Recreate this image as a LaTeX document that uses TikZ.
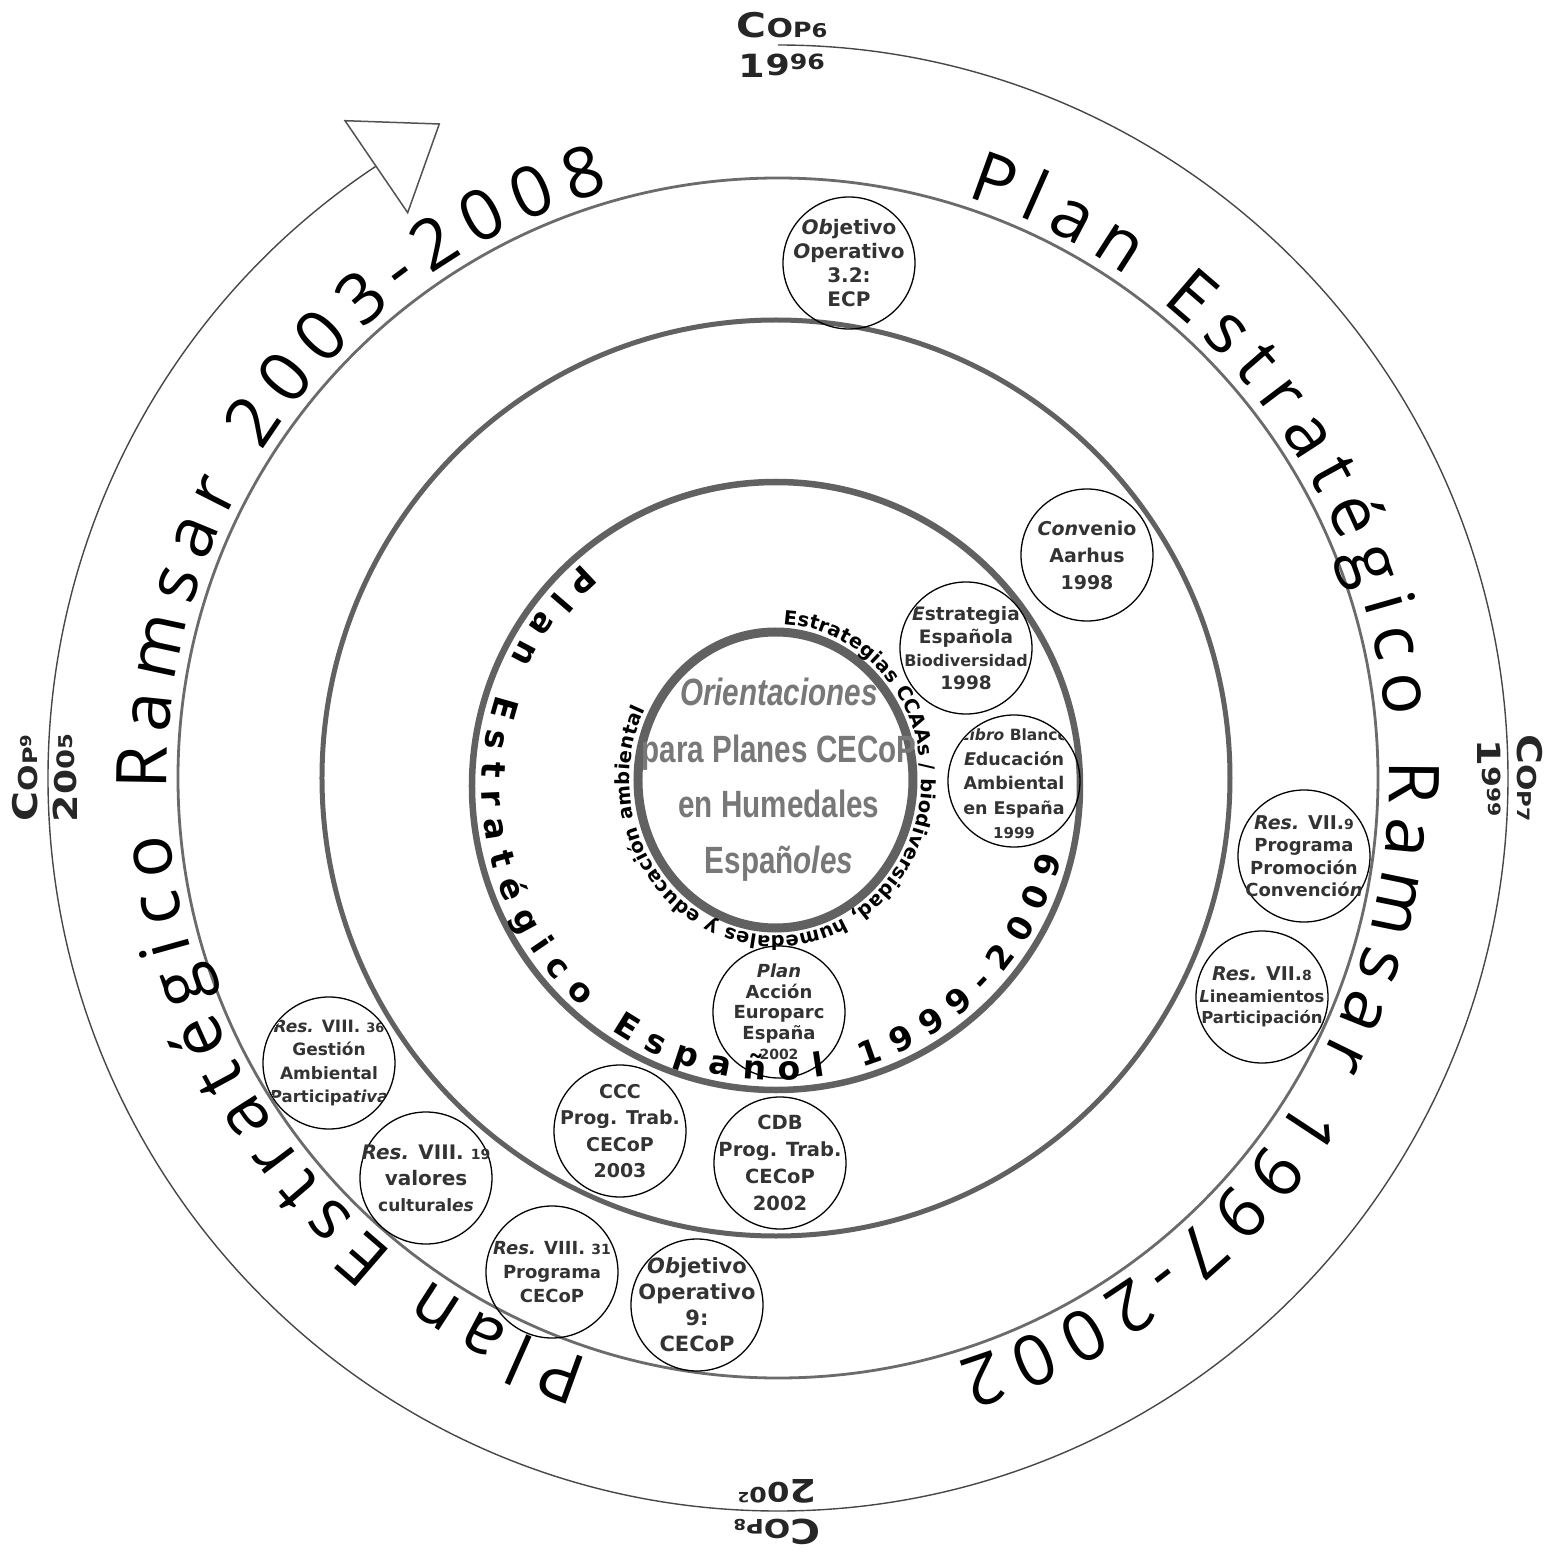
\documentclass[tikz,border=0pt]{standalone}
\usepackage{fontspec}
\usepackage{graphicx}
\usetikzlibrary{decorations.text}
\setmainfont{DejaVu Sans}
\newfontfamily\dvs{DejaVu Sans}
\newfontfamily\osans{Open Sans}
\newfontfamily\libs{Liberation Sans}
\newcommand\fs[1]{\fontsize{#1}{#1}\selectfont}
\newcommand\dgt[3]{\raisebox{#2pt}{\fontsize{#1}{#1}\selectfont #3}}
\newcommand\bt[2]{\dvs\bfseries\fontsize{#1}{#2}\selectfont}
\newcommand\bigtxt{\osans\fontsize{70}{70}\selectfont}
\newcommand\ringtxt{\dvs\bfseries\fontsize{33}{33}\selectfont}
\newcommand\innertxt{\dvs\bfseries\fontsize{19.5}{19.5}\selectfont}
\begin{document}
\begin{tikzpicture}[x=1pt,y=1pt,
  outerline/.style={draw=black!72,line width=1.4pt},
  ringA/.style={draw=black!58,line width=2.8pt},
  ringB/.style={draw=black!62,line width=5pt},
  ringC/.style={draw=black!62,line width=6.5pt},
  ringD/.style={draw=black!62,line width=9pt},
  tri/.style={draw=black!68,line width=1.5pt,fill=white,line join=miter},
  bub/.style={circle,draw=black,line width=1.3pt,minimum size=132pt,inner sep=0pt},
  btxt/.style={align=center,inner sep=0pt,text=black!80},
  cop/.style={align=center,inner sep=0pt,text=black!85,font=\dvs\bfseries\fontsize{20}{40}\selectfont},
  ctr/.style={anchor=base,inner sep=0pt,text=black!53,font=\libs\bfseries\fontsize{38}{38}\selectfont}
]
\useasboundingbox (-778,-778) rectangle (776,778);

% outer timeline arc with open arrowhead
\draw[outerline] (90:730 and 733) arc[start angle=90, end angle=-236.6, x radius=730, y radius=733];
\draw[tri] (-433,657.3) -- (-338.7,654) -- (-370.3,565.3) -- cycle;

% rings
\draw[ringA] (0,0) circle[radius=600];
\draw[ringB] (-2,0) ellipse[x radius=454, y radius=458];
\draw[ringC] (-2,-8) circle[radius=304];
\draw[ringD] (-2.5,-2) ellipse[x radius=137.5, y radius=148];

% texts along rings
\path[decorate, decoration={text along path, text align={fit to path},
  text={|\bigtxt|Plan Estratégico Ramsar 2003-2008}}]
  (252:611) arc[start angle=252, end angle=106, radius=611];
\path[decorate, decoration={text along path, text align={fit to path},
  text={|\bigtxt|Plan Estratégico Ramsar 1997-2002}}]
  (72:611) arc[start angle=72, end angle=-73, radius=611];
\path[shift={(-2,-8)}, decorate, decoration={text along path, text align={fit to path},
  text={|\ringtxt|Plan Estratégico Español 1999-2009}}]
  (131:294) arc[start angle=131, end angle=346, radius=294];
\path[shift={(-2.5,-2)}, decorate, decoration={text along path, text align={fit to path},
  text={|\innertxt|Estrategias CCAAs / biodiversidad, humedales y educación ambiental}}]
  (87:146 and 156) arc[start angle=87, end angle=-207, x radius=146, y radius=156];

% central text
\node[ctr] (o1) at (1,73) {\scalebox{0.78}[1]{\itshape Orientaciones}};
\node[ctr] (o2) at (1,16) {\scalebox{0.78}[1]{para Planes CECoP}};
\node[ctr] (o3) at (1,-39) {\scalebox{0.78}[1]{en Humedales}};
\node[ctr] (o4) at (1,-95) {\scalebox{0.78}[1]{Españ{\itshape oles}}};

% COP labels
\node[cop, xscale=1.2] (cop6) at (4,733)
  {{\fs{34}C}{\fs{26}O}{\fs{21}P}{\fs{19}6}\\\dgt{32}{0}{1}\dgt{29}{2.2}{9}\dgt{21}{8}{9}\dgt{21}{8}{6}};
\node[cop, rotate=-90, xscale=1.2] (cop7) at (732,0)
  {{\fs{34}C}{\fs{26}O}{\fs{19}P}{\fs{17}7}\\\dgt{32}{0}{1}\dgt{25}{5.1}{9}\dgt{18}{10.2}{9}\dgt{17}{10.9}{9}};
\node[cop, rotate=90, xscale=1.2] (cop9) at (-733,0)
  {{\fs{34}C}{\fs{26}O}{\fs{20}P}\dgt{15}{6}{9}\\\dgt{33}{0}{2}\dgt{30}{1.1}{0}\dgt{24}{3.3}{0}\dgt{19}{5.1}{5}};
\node[cop, rotate=180, xscale=1.2] (cop8) at (-1,-734)
  {{\fs{34}C}{\fs{26}O}{\fs{20}P}{\fs{15}8}\\\dgt{32}{0}{2}\dgt{27}{3.6}{0}\dgt{21}{8}{0}\dgt{14}{13.1}{2}};

% bubbles
\node[bub] (b1) at (71,515) {};
\node[bub] (b2) at (309,223) {};
\node[bub] (b3) at (188,130) {};
\node[bub] (b4) at (236,-3) {};
\node[bub] (b5) at (526,-78) {};
\node[bub] (b6) at (484,-219) {};
\node[bub] (b7) at (1,-234) {};
\node[bub] (b8) at (2,-385) {};
\node[bub] (b9) at (-158,-353) {};
\node[bub] (b10) at (-449,-285) {};
\node[bub] (b11) at (-352,-400) {};
\node[bub] (b12) at (-226,-494) {};
\node[bub] (b13) at (-81,-527) {};

\node[btxt, font={\bt{20}{24}}] (t1) at (b1) {{\itshape Ob}jetivo\\{\itshape O}perativo\\3.2:\\ECP};
\node[btxt, font={\bt{19}{27}}] (t2) at (b2) {{\itshape Con}venio\\Aarhus\\1998};
\begin{scope}
\clip (188,130) circle[radius=65];
\node[btxt, font={\bt{18.5}{23}}] (t3) at (b3) {{\itshape E}strategia\\Española\\{\fontsize{16}{23}\selectfont Biodiversidad}\\1998};
\end{scope}
\begin{scope}
\clip (236,-3) circle[radius=65];
\node[btxt, font={\bt{17.5}{24.5}}] (t4) at ([yshift=-3]b4.center) {{\fs{15.5}{\itshape Libro} Blanco}\\{\itshape E}ducación\\Ambiental\\en España\\{\fs{15}1999}};
\end{scope}
\node[btxt, font={\bt{18}{22.5}}] (t5) at (b5) {{\fs{19}{\itshape Res.} VII.{\fs{14}9}}\\Programa\\Promoción\\Convenció{\itshape n}};
\node[btxt, font={\bt{16.5}{21.5}}] (t6) at (b6) {{\fs{19}{\itshape Res.} VII.{\fs{14}8}}\\{\itshape L}ineamientos\\Participación};
\node[btxt, font={\bt{18}{20.5}}] (t7) at (b7) {{\itshape Plan}\\Acción\\Europarc\\España\\{\fs{14}2002}};
\node[btxt, font={\bt{19.5}{27}}] (t8) at (b8) {CDB\\Prog. Trab.\\CECoP\\2002};
\node[btxt, font={\bt{19}{26.5}}] (t9) at (b9) {CCC\\Prog. Trab.\\CECoP\\2003};
\begin{scope}
\clip (-449,-285) circle[radius=65];
\node[btxt, font={\bt{17}{23.5}}] (t10) at (b10) {{\itshape Res.} VIII. {\fs{13}36}\\Gestión\\Ambiental\\{\fs{16.5}{\itshape P}articipa{\itshape tiva}}};
\end{scope}
\node[btxt, font={\bt{20}{26}}] (t11) at (b11) {{\itshape Res.} VIII. {\fs{14}19}\\valores\\{\fs{17}cultural{\itshape es}}};
\node[btxt, font={\bt{18}{24}}] (t12) at (b12) {{\itshape Res.} VIII. {\fs{14}31}\\Program{\fs{16}a}\\CECoP};
\node[btxt, font={\bt{21}{26}}] (t13) at (b13) {{\itshape Ob}jetivo\\Operativo\\9:\\CECoP};
\end{tikzpicture}
\end{document}
